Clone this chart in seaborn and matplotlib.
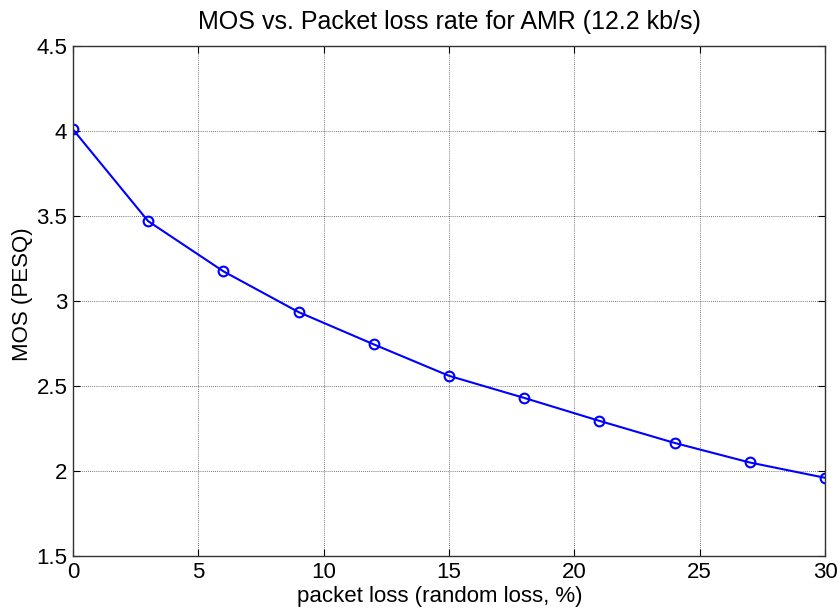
import matplotlib
matplotlib.use("Agg")
import matplotlib.pyplot as plt
import seaborn as sns
import pandas as pd

packet_loss = [0, 3, 6, 9, 12, 15, 18, 21, 24, 27, 30]
mos = [4.01, 3.47, 3.175, 2.935, 2.745, 2.56, 2.43, 2.295, 2.165, 2.05, 1.96]
x_ticks = [0, 5, 10, 15, 20, 25, 30]
y_ticks = [1.5, 2, 2.5, 3, 3.5, 4, 4.5]
y_tick_labels = ["1.5", "2", "2.5", "3", "3.5", "4", "4.5"]

sns.set_theme(style="white")
plt.rcParams['font.family'] = ['Liberation Sans', 'DejaVu Sans']

df = pd.DataFrame({"loss": packet_loss, "mos": mos})

fig = plt.figure(figsize=(8.38, 6.14), dpi=100)
ax = fig.add_axes([0.087, 0.0945, 0.8975, 0.8305])

sns.lineplot(data=df, x="loss", y="mos", ax=ax, color="#0000ff", linewidth=1.5,
             marker="o", markersize=7, markerfacecolor="none",
             markeredgecolor="#0000ff", markeredgewidth=1.5)

ax.set_xlim(0, 30)
ax.set_ylim(1.5, 4.5)
ax.set_xticks(x_ticks)
ax.set_xticklabels([str(t) for t in x_ticks])
ax.set_yticks(y_ticks)
ax.set_yticklabels(y_tick_labels)
ax.grid(True, color="black", linestyle=(0, (1, 1.5)), linewidth=0.6, alpha=0.7)
ax.tick_params(direction="in", length=5, width=0.8, labelsize=16, colors="black",
               top=True, right=True, bottom=True, left=True, pad=4)
for s in ax.spines.values():
    s.set_color("#333333")
    s.set_linewidth(1.0)
    s.set_visible(True)

ax.set_xlabel("packet loss (random loss, %)", fontsize=16, color="black")
ax.set_ylabel("MOS (PESQ)", fontsize=16, color="black")
ax.xaxis.set_label_coords(0.488, -0.058)
ax.yaxis.set_label_coords(-0.053, 0.514)
ax.set_title("MOS vs. Packet loss rate for AMR (12.2 kb/s)", fontsize=18, pad=12, color="black")

fig.savefig("out.png", dpi=100)
